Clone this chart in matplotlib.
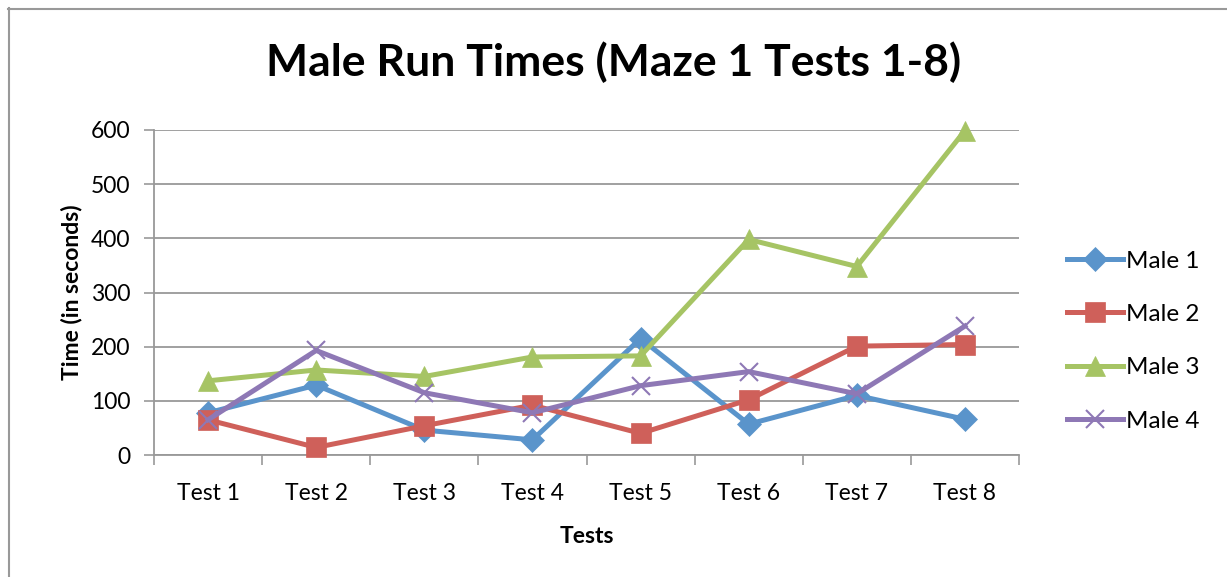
import matplotlib
matplotlib.use("Agg")
import matplotlib.pyplot as plt
from matplotlib.lines import Line2D

plt.rcParams['font.family'] = ['Lato', 'DejaVu Sans']

# Data
tests = ["Test 1", "Test 2", "Test 3", "Test 4", "Test 5", "Test 6", "Test 7", "Test 8"]
male1 = [78, 129, 46, 28, 215, 57, 110, 66]
male2 = [65, 14, 54, 92, 40, 102, 201, 204]
male3 = [137, 157, 145, 181, 183, 398, 348, 599]
male4 = [65, 193, 115, 78, 128, 154, 113, 238]
labels = ["Male 1", "Male 2", "Male 3", "Male 4"]
yticks = [0, 100, 200, 300, 400, 500, 600]

# Styles
colors = ["#5A94CB", "#CF605A", "#A6C464", "#8E78B5"]
markers = ["D", "s", "^", "x"]
msizes = [12, 14, 15, 13]

fig = plt.figure(figsize=(12.27, 5.77), dpi=100)
ax = fig.add_axes([0.1255, 0.2114, 0.705, 0.5633])

x = list(range(len(tests)))
for series, lab, c, m, ms in zip([male1, male2, male3, male4], labels, colors, markers, msizes):
    ax.plot(x, series, color=c, lw=3.6, marker=m, markersize=ms,
            markeredgewidth=1.5 if m == "x" else 0.5, markeredgecolor=c,
            label=lab, solid_joinstyle="round", clip_on=False, zorder=3)

ax.set_xlim(-0.5, len(tests) - 0.5)
ax.set_ylim(0, 600)
ax.set_yticks(yticks)
ax.set_xticks(x)
ax.set_xticklabels(tests)
ax.set_xticks([i - 0.5 for i in range(len(tests) + 1)], minor=True)
ax.tick_params(axis="x", which="major", length=0, pad=20, labelsize=16.5)
ax.tick_params(axis="x", which="minor", length=7, color="#999999", width=1.2)
ax.tick_params(axis="y", length=7, color="#999999", width=1.2, labelsize=16.5, pad=10)
ax.grid(axis="y", color="#999999", lw=1.3)
ax.set_axisbelow(True)
for s in ["top", "right"]:
    ax.spines[s].set_visible(False)
for s in ["left", "bottom"]:
    ax.spines[s].set_color("#999999")
    ax.spines[s].set_linewidth(1.3)

ax.set_xlabel("Tests", fontsize=16.5, fontweight="bold", labelpad=16)
ax.set_ylabel("Time (in seconds)", fontsize=16.5, fontweight="bold", labelpad=6)
fig.text(0.5, 0.892, "Male Run Times (Maze 1 Tests 1-8)", ha="center", va="center",
         fontsize=32, fontweight="bold")

fig.legend(loc="center left", bbox_to_anchor=(0.852, 0.409), frameon=False,
           fontsize=17.5, labelspacing=1.33, handlelength=2.3, handletextpad=0.1)

# chart frame (top and left edges visible)
fig.add_artist(Line2D([8 / 1227, 1.0], [1 - 8.5 / 577, 1 - 8.5 / 577],
                      transform=fig.transFigure, color="#999999", lw=1.5))
fig.add_artist(Line2D([8.5 / 1227, 8.5 / 1227], [0, 1 - 8 / 577],
                      transform=fig.transFigure, color="#999999", lw=1.5))

fig.savefig("out.png", dpi=100, facecolor="white")
